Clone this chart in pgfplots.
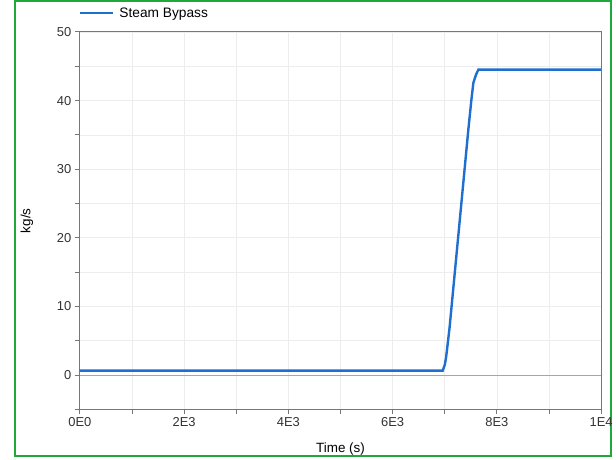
\documentclass[border=0pt]{standalone}
\usepackage{pgfplots}
\pgfplotsset{compat=1.18}
\usepackage{fontspec}
\setmainfont{Liberation Sans}
\definecolor{lineblue}{HTML}{1F6FD0}
\definecolor{framegreen}{HTML}{22A83A}
\definecolor{axgray}{HTML}{777777}
\definecolor{txtgray}{HTML}{333333}
\definecolor{gridgray}{HTML}{EDEDED}
\begin{document}
\begin{tikzpicture}[x=1bp,y=1bp]
\fill[white] (0,0) rectangle (616,459);
\draw[framegreen, line width=2bp] (15,2) rectangle (612,458);
\begin{axis}[
  at={(80bp,49bp)}, anchor=south west,
  scale only axis, width=522bp, height=378bp,
  xmin=0, xmax=10000, ymin=-5, ymax=50,
  xtick={0,2000,4000,6000,8000,10000},
  xticklabels={0E0,2E3,4E3,6E3,8E3,1E4},
  minor xtick={1000,3000,5000,7000,9000},
  ytick={0,10,20,30,40,50},
  minor ytick={-5,5,15,25,35,45},
  xtick pos=left, ytick pos=left,
  scaled x ticks=false,
  grid=both,
  major grid style={gridgray, line width=0.8bp},
  minor grid style={gridgray, line width=0.8bp},
  axis line style={axgray, line width=1bp},
  tick style={axgray, line width=1bp},
  tick align=outside,
  major tick length=5bp, minor tick length=5bp,
  tick label style={font=\fontsize{13}{15}\selectfont, text=txtgray},
  /pgf/number format/assume math mode=true,
  xlabel={Time (s)}, ylabel={kg/s},
  label style={font=\fontsize{13.5}{15}\selectfont, text=black},
  xlabel style={at={(axis description cs:0.5,-0.106)}, anchor=center},
  ylabel style={at={(axis description cs:-0.1015,0.5)}, anchor=center},
  legend style={at={(axis description cs:0,1)}, anchor=south west, yshift=11bp, xshift=-1bp,
    draw=none, fill=none, font=\fontsize{13.8}{15}\selectfont, inner sep=0pt},
  legend cell align=left,
  legend image code/.code={\draw[#1] (0bp,0bp) -- (33bp,0bp); \path (36bp,0bp);},
  clip=true,
]
\addplot[gray!70, line width=1bp, forget plot] coordinates {(0,0) (10000,0)};
\addplot[lineblue, line width=2.4bp] coordinates {
(0,0.65) (6960,0.65) (7000,1.5) (7025,2.6) (7090,6.8) (7200,15.6) (7300,23.6)
(7452,35.8) (7510,40.1) (7548,42.6) (7600,43.8) (7644,44.5) (10000,44.5)
};
\addlegendentry{Steam Bypass}
\end{axis}
\end{tikzpicture}
\end{document}
